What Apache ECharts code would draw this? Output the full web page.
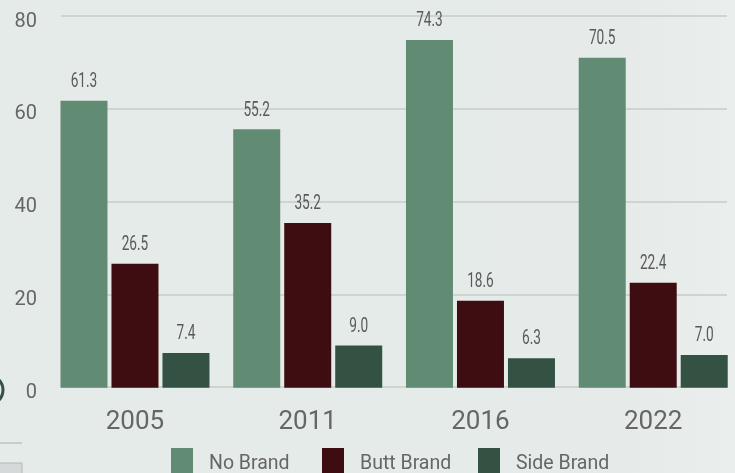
<!DOCTYPE html>
<html>
<head>
<meta charset="utf-8">
<script src="https://cdn.jsdelivr.net/npm/echarts@6/dist/echarts.min.js"></script>
<style>
html,body{margin:0;padding:0;background:#e6ebe9;}
#c{width:735px;height:473px;}
</style>
</head>
<body>
<div id="c"></div>
<script>
var categories = ['2005', '2011', '2016', '2022'];
var noBrand = [61.3, 55.2, 74.3, 70.5];
var buttBrand = [26.5, 35.2, 18.6, 22.4];
var sideBrand = [7.4, 9.0, 6.3, 7.0];
var seriesNames = ['No Brand', 'Butt Brand', 'Side Brand'];
var yTicks = [0, 20, 40, 60, 80];

var colors = ['#628b74', '#3e0d12', '#345244'];
var legendLeft = [171, 322, 478];
var chart = echarts.init(document.getElementById('c'), null, {renderer: 'canvas'});

function mk(name, data, color) {
  return {
    name: name, type: 'bar', xAxisIndex: 1, yAxisIndex: 1,
    data: data, barWidth: 47, barGap: '8.5%',
    itemStyle: {color: color}
  };
}
function lbl(data, offset) {
  return {
    type: 'custom', xAxisIndex: 1, yAxisIndex: 1, z: 10, silent: true,
    data: data.map(function (v, i) { return [i, v]; }),
    renderItem: function (params, api) {
      var p = api.coord([api.value(0), api.value(1)]);
      return {
        type: 'text', x: p[0] + offset, y: p[1] - 19, scaleX: 0.65,
        style: {
          text: api.value(1).toFixed(1), fill: '#5a5a5a',
          font: '21px Roboto, sans-serif', align: 'center', verticalAlign: 'middle'
        }
      };
    }
  };
}
var yMin = yTicks[0], yMax = yTicks[yTicks.length - 1];
chart.setOption({
  backgroundColor: {
    type: 'linear', x: 0, y: 0, x2: 1, y2: 0,
    colorStops: [{offset: 0, color: '#e5ebe9'}, {offset: 0.85, color: '#e6ebe9'}, {offset: 1, color: '#eaeeec'}]
  },
  animation: false,
  grid: [
    {left: 61, right: 8, top: 16, bottom: 86, outerBoundsMode: 'none'},
    {left: 48.6, width: 691, top: 13.3, bottom: 85.3, outerBoundsMode: 'none'},
    {left: 61, right: 8, top: 21.5, bottom: 80.5, outerBoundsMode: 'none'}
  ],
  xAxis: [
    {type: 'category', gridIndex: 0, data: categories, show: false},
    {type: 'category', gridIndex: 1, data: categories,
     axisLine: {show: false}, axisTick: {show: false},
     axisLabel: {fontSize: 26, color: '#666', margin: 22, fontFamily: 'Roboto, sans-serif'}},
    {type: 'category', gridIndex: 2, data: categories, show: false}
  ],
  yAxis: [
    {type: 'value', gridIndex: 0, min: yMin, max: yMax, interval: 20,
     axisLine: {show: false}, axisTick: {show: false}, axisLabel: {show: false},
     splitLine: {lineStyle: {color: '#cfd3d2', width: 2}}},
    {type: 'value', gridIndex: 1, min: yMin, max: yMax, interval: 20, show: false},
    {type: 'value', gridIndex: 2, min: yMin, max: yMax, interval: 20,
     axisLine: {show: false}, axisTick: {show: false}, splitLine: {show: false},
     axisLabel: {fontSize: 20, color: '#666', margin: 24, fontFamily: 'Roboto, sans-serif'}}
  ],
  legend: seriesNames.map(function (n, i) {
    return {
      data: [n], left: legendLeft[i], top: 448, padding: 0,
      itemWidth: 22, itemHeight: 32, icon: 'rect',
      textStyle: {fontSize: 19.5, color: '#666', padding: [0, 0, 0, 11], fontFamily: 'Roboto, sans-serif'}
    };
  }),
  series: [
    mk(seriesNames[0], noBrand, colors[0]),
    mk(seriesNames[1], buttBrand, colors[1]),
    mk(seriesNames[2], sideBrand, colors[2]),
    lbl(noBrand, -51),
    lbl(buttBrand, 0),
    lbl(sideBrand, 51)
  ],
  graphic: [
    {type: 'circle', shape: {cx: -12, cy: 390, r: 15}, style: {fill: 'none', stroke: '#345244', lineWidth: 3}},
    {type: 'line', shape: {x1: 0, y1: 443, x2: 22, y2: 443}, style: {stroke: '#c8cccb', lineWidth: 2}},
    {type: 'rect', shape: {x: -1, y: 463, width: 23, height: 14}, style: {fill: '#d6d9d9', stroke: '#b5b8b8', lineWidth: 1}}
  ]
});
</script>
</body>
</html>
